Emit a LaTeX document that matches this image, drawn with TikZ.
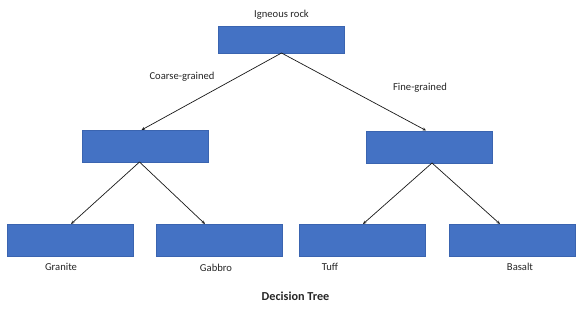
\documentclass[tikz,border=0pt]{standalone}
\usepackage{fontspec}
\setmainfont{Carlito}
\usetikzlibrary{arrows.meta}
\definecolor{boxblue}{HTML}{4472C4}
\definecolor{boxedge}{HTML}{3A64B0}
\begin{document}
\begin{tikzpicture}[x=1pt,y=-1pt,
  leaf/.style={draw=boxedge,line width=0.5pt,fill=boxblue,minimum width=126pt,minimum height=32pt,inner sep=0pt,anchor=north west},
  lbl/.style={font=\fontsize{10.6}{12}\selectfont,text=black!85,inner sep=0pt},
  conn/.style={draw=black!90,line width=0.7pt,-{Stealth[length=3.5pt,width=3pt]}}]
\useasboundingbox[fill=white] (0,0) rectangle (580,326);
\node[leaf,minimum height=27pt] (root) at (218,26) {};
\node[leaf] (cl) at (81.5,130) {};
\node[leaf] (cr) at (366,130.5) {};
\node[leaf] (gr) at (6.5,224) {};
\node[leaf] (ga) at (155.5,224) {};
\node[leaf] (tu) at (299,224) {};
\node[leaf] (ba) at (448.5,224) {};
\coordinate (rb) at (281.5,53);
\coordinate (clt) at (141.5,130);
\coordinate (crt) at (426,130.5);
\coordinate (clb) at (139.5,162);
\coordinate (crb) at (432,163);
\coordinate (grt) at (71,224);
\coordinate (gat) at (205,224);
\coordinate (tut) at (363,224);
\coordinate (bat) at (500,224);
\draw[conn] (rb) -- (clt);
\draw[conn] (rb) -- (crt);
\draw[conn] (clb) -- (grt);
\draw[conn] (clb) -- (gat);
\draw[conn] (crb) -- (tut);
\draw[conn] (crb) -- (bat);
\node[lbl] (t0) at (281.5,15) {Igneous rock};
\node[lbl] (t1) at (182,77) {Coarse-grained};
\node[lbl] (t2) at (420,88) {Fine-grained};
\node[lbl] (t3) at (61,267) {Granite};
\node[lbl] (t4) at (216,267.5) {Gabbro};
\node[lbl] (t5) at (330,267) {Tuff};
\node[lbl] (t6) at (520,267) {Basalt};
\node[lbl,font=\fontsize{12.2}{14}\selectfont\bfseries] (t7) at (295.5,296) {Decision Tree};
\end{tikzpicture}
\end{document}
